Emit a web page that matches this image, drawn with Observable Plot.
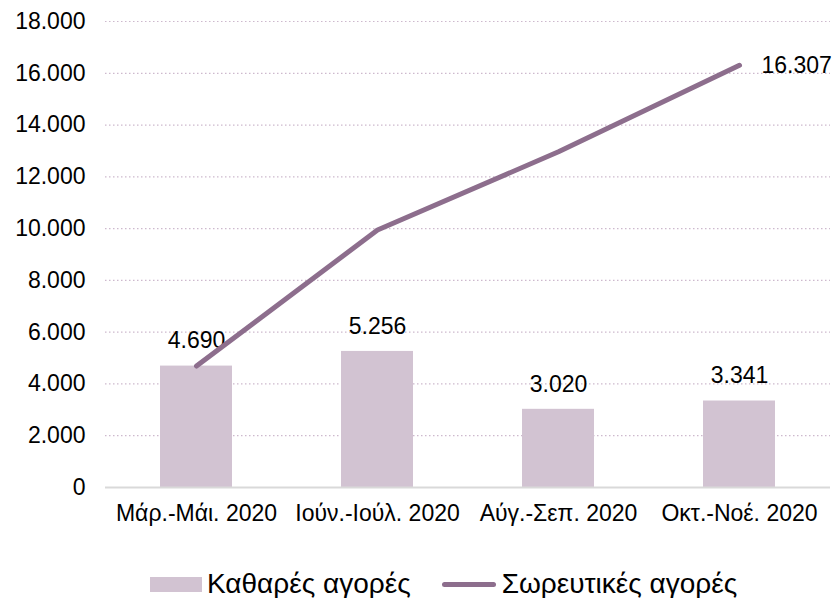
<!DOCTYPE html>
<html>
<head>
<meta charset="utf-8">
<script src="https://cdn.jsdelivr.net/npm/d3@7"></script>
<script src="https://cdn.jsdelivr.net/npm/@observablehq/plot@0.6"></script>
<style>
  body { margin: 0; background: #fff; font-family: "Liberation Sans", Arial, sans-serif; }
  #legend { display: flex; align-items: center; font-size: 28px; color: #000; margin-top: 30px; padding-left: 150px; line-height: 1; }
  .item { display: flex; align-items: center; }
  .sw-bar { width: 52px; height: 15px; background: #d2c3d2; margin-right: 5px; }
  .sw-line { width: 54px; height: 5px; background: #8d6e8d; border-radius: 3px; margin-right: 6px; margin-left: 31px; }
</style>
</head>
<body>
<div id="chart"></div>
<div id="legend">
  <div class="item"><span class="sw-bar"></span><span>Καθαρές αγορές</span></div>
  <div class="item"><span class="sw-line"></span><span>Σωρευτικές αγορές</span></div>
</div>
<script>
const categories = ["Μάρ.-Μάι. 2020", "Ιούν.-Ιούλ. 2020", "Αύγ.-Σεπ. 2020", "Οκτ.-Νοέ. 2020"];
const netPurchases = [4690, 5256, 3020, 3341];
const cumulativePurchases = [4690, 9946, 12966, 16307];
const yTicks = [0, 2000, 4000, 6000, 8000, 10000, 12000, 14000, 16000, 18000];

const fmt = d3.formatLocale({decimal: ",", thousands: ".", grouping: [3], currency: ["", ""]}).format(",");

const bars = categories.map((c, i) => ({cat: c, value: netPurchases[i]}));
const line = categories.map((c, i) => ({cat: c, value: cumulativePurchases[i]}));
const lastPt = [line[line.length - 1]];

const chart = Plot.plot({
  width: 834,
  height: 540,
  marginLeft: 105,
  marginRight: 4,
  marginTop: 21,
  marginBottom: 53,
  style: {fontFamily: "Liberation Sans, Arial, sans-serif", fontSize: "23px", color: "#000", background: "#fff"},
  x: {domain: categories, paddingInner: 0.6, paddingOuter: 0.3, label: null},
  y: {domain: [0, 18000], label: null},
  marks: [
    Plot.gridY(yTicks.filter(d => d > 0), {stroke: "#cdb9cd", strokeOpacity: 1, strokeDasharray: "1.5,2.5", strokeWidth: 1.2}),
    Plot.axisY(yTicks, {tickSize: 0, tickPadding: 20, tickFormat: fmt, fontSize: 23, label: null}),
    Plot.axisX({tickSize: 0, tickPadding: 17, fontSize: 23, label: null}),
    Plot.barY(bars, {x: "cat", y: "value", fill: "#d2c3d2"}),
    Plot.ruleY([0], {stroke: "#d9d9d9", strokeWidth: 2}),
    Plot.text(bars, {x: "cat", y: "value", text: d => fmt(d.value), dy: -25, fontSize: 23, fill: "#000"}),
    Plot.line(line, {x: "cat", y: "value", stroke: "#8d6e8d", strokeWidth: 5, strokeLinecap: "round"}),
    Plot.text(lastPt, {x: "cat", y: "value", text: d => fmt(d.value), dx: 22, textAnchor: "start", fontSize: 23, fill: "#000"})
  ]
});
document.getElementById("chart").appendChild(chart);
</script>
</body>
</html>
